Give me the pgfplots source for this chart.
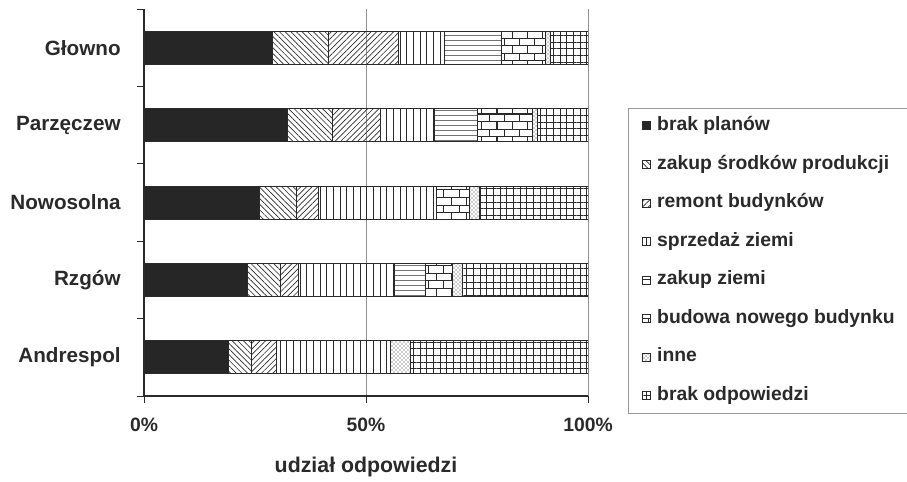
\documentclass[border=0pt]{standalone}
\usepackage{pgfplots}
\pgfplotsset{compat=1.18}
\usepackage{fontspec}
\setmainfont{Liberation Sans}
\usetikzlibrary{patterns,patterns.meta}

\definecolor{ink}{HTML}{2A2A2A}
\definecolor{fillblack}{HTML}{262626}

\begin{document}
\begin{tikzpicture}
\path[use as bounding box] (-108pt,-64.5pt) rectangle (572.25pt,297pt);
\begin{axis}[
  at={(0pt,0pt)}, anchor=south west,
  scale only axis, width=333pt, height=290.25pt,
  xbar stacked, bar width=24.75pt,
  xmin=0, xmax=100, ymin=-0.5, ymax=4.5,
  axis x line=bottom, axis y line=left,
  axis line style={-, draw=ink, line width=0.8pt},
  xtick={0,50,100}, xticklabels={0\%,50\%,100\%},
  xmajorgrids, major grid style={draw=gray!85, line width=0.6pt},
  ytick={-0.5,0.5,1.5,2.5,3.5,4.5}, yticklabels={,,,,,},
  extra y ticks={0,1,2,3,4},
  extra y tick labels={Andrespol,Rzgów,Nowosolna,Parzęczew,Głowno},
  extra y tick style={major tick length=0pt},
  tick align=outside, major tick length=5pt,
  tick style={draw=ink, line width=0.6pt},
  ticklabel style={font=\fontsize{14.5}{17}\selectfont\bfseries, text=ink},
  xticklabel style={anchor=center, yshift=-16.5pt},
  yticklabel style={anchor=east, xshift=-14pt, font=\fontsize{15.5}{18}\selectfont\bfseries},
  xlabel={udział odpowiedzi},
  xlabel style={at={(axis description cs:0.5,0)}, anchor=center, yshift=-53.25pt,
    font=\fontsize{16}{19}\selectfont\bfseries, text=ink},
  every axis plot/.append style={draw=ink, line width=0.6pt},
  legend image code/.code={\draw[#1] (0pt,-3pt) rectangle (6pt,3pt);},
  legend cell align=left,
  legend style={at={(1.0901,0.7442)}, anchor=north west,
    draw=gray!80, line width=0.6pt, fill=white,
    inner xsep=10.5pt, inner ysep=6.1pt,
    font=\fontsize{14.5}{17}\selectfont\bfseries, text=ink,
    nodes={inner sep=0pt, text height=10.5pt, text depth=3.5pt},
    row sep=14.93pt,
    /tikz/every odd column/.append style={column sep=4.5pt}},
]
\addplot[fill=fillblack] coordinates {(19.0,0) (23.4,1) (26.0,2) (32.4,3) (29.0,4)};
\addplot[pattern={Lines[angle=-45,distance=3pt,line width=0.5pt]}, pattern color=ink]
  coordinates {(5.3,0) (7.3,1) (8.4,2) (10.0,3) (12.5,4)};
\addplot[pattern={Lines[angle=45,distance=3pt,line width=0.5pt]}, pattern color=ink]
  coordinates {(5.6,0) (4.1,1) (4.9,2) (10.9,3) (15.9,4)};
\addplot[pattern={Lines[angle=90,distance=5pt,line width=0.6pt]}, pattern color=ink]
  coordinates {(25.6,0) (21.5,1) (26.6,2) (12.2,3) (10.3,4)};
\addplot[pattern={Lines[angle=0,distance=4pt,line width=0.6pt]}, pattern color=ink]
  coordinates {(0,0) (7.1,1) (0,2) (9.7,3) (12.7,4)};
\addplot[pattern=bricks, pattern color=ink]
  coordinates {(0,0) (6.0,1) (7.3,2) (12.3,3) (9.9,4)};
\addplot[pattern=crosshatch dots, pattern color=ink]
  coordinates {(4.5,0) (2.3,1) (2.3,2) (1.1,3) (1.2,4)};
\addplot[pattern={Hatch[angle=0,distance=5pt,line width=0.6pt]}, pattern color=ink]
  coordinates {(40.0,0) (28.3,1) (24.5,2) (11.4,3) (8.5,4)};
\legend{brak planów,zakup środków produkcji,remont budynków,sprzedaż ziemi,zakup ziemi,budowa nowego budynku,inne,brak odpowiedzi}
\end{axis}
\end{tikzpicture}
\end{document}
